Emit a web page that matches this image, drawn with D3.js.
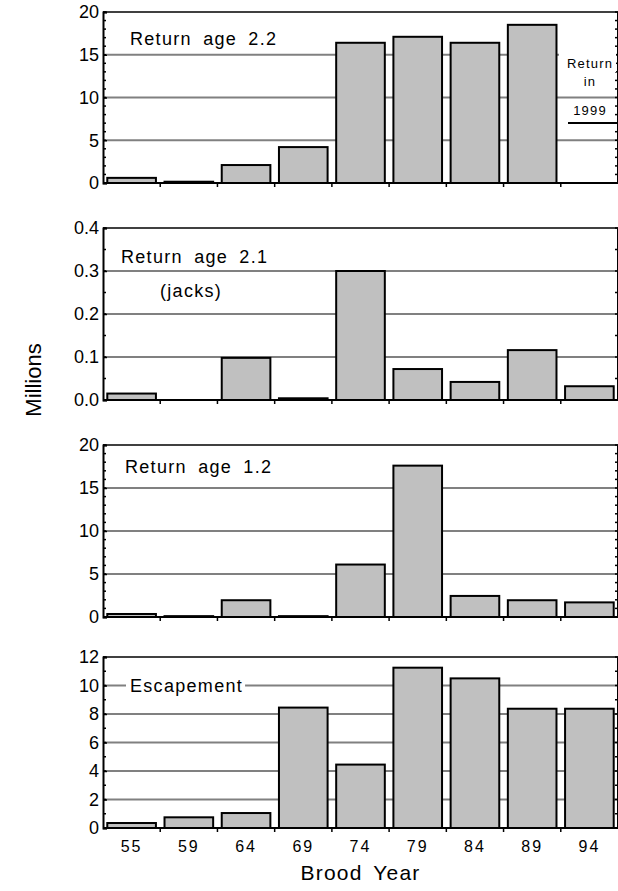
<!DOCTYPE html>
<html>
<head>
<meta charset="utf-8">
<script src="https://cdn.jsdelivr.net/npm/d3@7"></script>
<style>
  body { margin: 0; background: #fff; }
  svg { display: block; font-family: "Liberation Sans", Arial, sans-serif; }
</style>
</head>
<body>
<div id="chart"></div>
<script>
// brood years along the bottom
const broodYears = ["55", "59", "64", "69", "74", "79", "84", "89", "94"];

// millions of fish
const age22 = [0.6, 0.15, 2.1, 4.2, 16.4, 17.1, 16.4, 18.5, null];
const age21 = [0.015, 0, 0.098, 0.004, 0.3, 0.072, 0.042, 0.116, 0.032];
const age12 = [0.35, 0.1, 1.95, 0.1, 6.1, 17.6, 2.45, 1.95, 1.7];
const escapement = [0.35, 0.75, 1.05, 8.45, 4.45, 11.25, 10.5, 8.37, 8.37];

// y tick labels for each panel
const ticks22 = [0, 5, 10, 15, 20];
const ticks21 = [0, 0.1, 0.2, 0.3, 0.4];
const ticks12 = [0, 5, 10, 15, 20];
const ticksEsc = [0, 2, 4, 6, 8, 10, 12];

const panelTitles = ["Return age 2.2", "Return age 2.1", "Return age 1.2", "Escapement"];

const width = 618, height = 891;
const left = 103, right = 618;

const svg = d3.select("#chart").append("svg")
  .attr("width", width)
  .attr("height", height);

const x = d3.scaleBand().domain(broodYears).range([left, right])
  .paddingInner(0.15).paddingOuter(0.075);

const panels = [
  {values: age22, ticks: ticks22, minor: 1, top: 12, bottom: 183, fmt: d3.format("d")},
  {values: age21, ticks: ticks21, minor: 0.05, top: 228, bottom: 400, fmt: d3.format(".1f")},
  {values: age12, ticks: ticks12, minor: 1, top: 445, bottom: 617, fmt: d3.format("d")},
  {values: escapement, ticks: ticksEsc, minor: 1, top: 657, bottom: 828, fmt: d3.format("d")}
];

panels.forEach((p, pi) => {
  const yMax = d3.max(p.ticks);
  const y = d3.scaleLinear().domain([0, yMax]).range([p.bottom, p.top]);
  const g = svg.append("g");

  // gridlines
  g.selectAll(".grid")
    .data(p.ticks.filter(t => t > 0 && t < yMax))
    .join("line")
    .attr("x1", left).attr("x2", right)
    .attr("y1", d => y(d)).attr("y2", d => y(d))
    .attr("stroke", "#808080").attr("stroke-width", 2);

  // bars
  const rows = broodYears.map((yr, i) => ({yr, v: p.values[i]})).filter(d => d.v != null && d.v > 0);
  g.selectAll(".bar")
    .data(rows)
    .join("rect")
    .attr("x", d => x(d.yr))
    .attr("y", d => y(d.v))
    .attr("width", x.bandwidth())
    .attr("height", d => p.bottom - y(d.v))
    .attr("fill", "#c0c0c0")
    .attr("stroke", "#000")
    .attr("stroke-width", 2);

  // frame
  g.append("line").attr("x1", left).attr("x2", right).attr("y1", p.top).attr("y2", p.top)
    .attr("stroke", "#000").attr("stroke-width", 1.5);
  g.append("line").attr("x1", right - 0.5).attr("x2", right - 0.5).attr("y1", p.top).attr("y2", p.bottom)
    .attr("stroke", "#000").attr("stroke-width", 1);

  // minor ticks inside, left and right
  const minorVals = d3.range(0, yMax + p.minor / 2, p.minor);
  g.selectAll(".minL").data(minorVals).join("line")
    .attr("x1", left).attr("x2", left + 3)
    .attr("y1", d => y(d)).attr("y2", d => y(d))
    .attr("stroke", "#000").attr("stroke-width", 1.5);
  g.selectAll(".minR").data(minorVals).join("line")
    .attr("x1", right - 3).attr("x2", right)
    .attr("y1", d => y(d)).attr("y2", d => y(d))
    .attr("stroke", "#000").attr("stroke-width", 1.5);

  // y axis
  const yAxis = g.append("g")
    .attr("transform", `translate(${left},0)`)
    .call(d3.axisLeft(y).tickValues(p.ticks).tickFormat(p.fmt).tickSize(-4).tickPadding(4));
  yAxis.select(".domain").attr("stroke-width", 2);
  yAxis.selectAll(".tick line").attr("stroke-width", 1.5);
  yAxis.selectAll("text")
    .attr("font-size", 18)
    .attr("font-family", "'Liberation Sans', Arial, sans-serif")
    .attr("fill", "#000");

  // x axis: ticks at band boundaries pointing down
  const bounds = d3.range(0, broodYears.length + 1).map(k => left + k * x.step());
  g.append("line").attr("x1", left).attr("x2", right).attr("y1", p.bottom).attr("y2", p.bottom)
    .attr("stroke", "#000").attr("stroke-width", 2);
  g.selectAll(".xt").data(bounds.slice(1, -1)).join("line")
    .attr("x1", d => d).attr("x2", d => d)
    .attr("y1", p.bottom).attr("y2", p.bottom + 4)
    .attr("stroke", "#000").attr("stroke-width", 1.5);

  p.y = y;
  p.g = g;
});

const labelFont = {size: 18, ls: 1.3, ws: 5};
function panelLabel(g, txt, xx, yy, bg) {
  const t = g.append("text")
    .attr("x", xx).attr("y", yy)
    .attr("font-size", labelFont.size)
    .attr("letter-spacing", labelFont.ls)
    .attr("word-spacing", labelFont.ws)
    .attr("dominant-baseline", "central")
    .text(txt);
  if (bg) {
    const b = t.node().getBBox();
    g.insert("rect", () => t.node())
      .attr("x", b.x - 4).attr("y", b.y + 2)
      .attr("width", b.width + 6).attr("height", b.height - 4)
      .attr("fill", "#fff");
  }
  return t;
}

panelLabel(panels[0].g, panelTitles[0], 130, 39);
panelLabel(panels[1].g, panelTitles[1], 121, 257);
panelLabel(panels[1].g, "(jacks)", 160, 291);
panelLabel(panels[2].g, panelTitles[2], 125, 467);
panelLabel(panels[3].g, panelTitles[3], 130, panels[3].y(10), true);

// "Return in 1999" note in the empty 94 slot
const note = panels[0].g;
note.append("rect").attr("x", 559).attr("y", 51).attr("width", 57).attr("height", 21).attr("fill", "#fff");
["Return", "in", "1999"].forEach((s, i) => {
  note.append("text")
    .attr("x", 590).attr("y", [63, 81, 110][i])
    .attr("text-anchor", "middle")
    .attr("dominant-baseline", "central")
    .attr("font-size", 13)
    .attr("letter-spacing", 1.2)
    .text(s);
});
note.append("line").attr("x1", 568).attr("x2", 618).attr("y1", 123).attr("y2", 123)
  .attr("stroke", "#000").attr("stroke-width", 2);

// x tick labels under the bottom panel
const last = panels[3];
svg.append("g").selectAll("text").data(broodYears).join("text")
  .attr("x", d => x(d) + x.bandwidth() / 2)
  .attr("y", last.bottom + 24)
  .attr("text-anchor", "middle")
  .attr("font-size", 16)
  .attr("letter-spacing", 2)
  .text(d => d);

svg.append("text")
  .attr("x", (left + right) / 2).attr("y", last.bottom + 52)
  .attr("text-anchor", "middle")
  .attr("font-size", 21)
  .attr("letter-spacing", 1.2)
  .attr("word-spacing", 4)
  .text("Brood Year");

svg.append("text")
  .attr("transform", "translate(41,380) rotate(-90)")
  .attr("text-anchor", "middle")
  .attr("font-size", 22)
  .text("Millions");
</script>
</body>
</html>
